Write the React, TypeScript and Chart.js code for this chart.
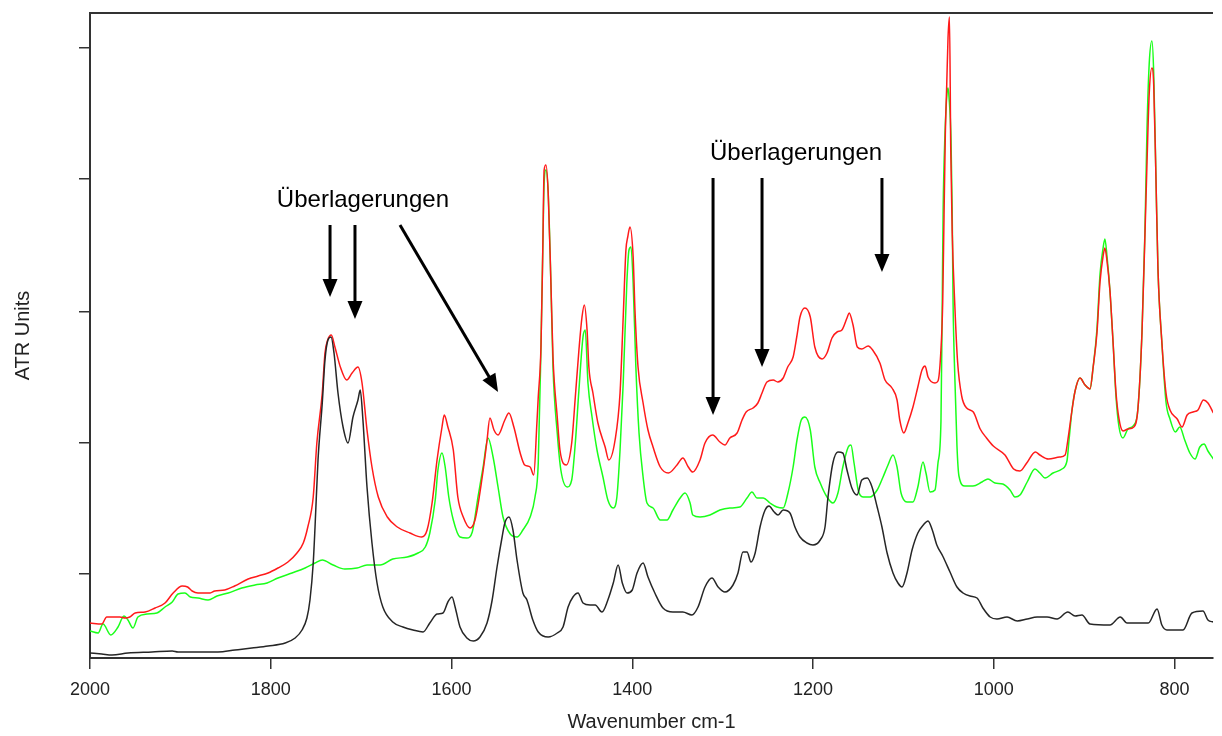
import React, { useEffect, useRef } from 'react';
import { Chart, registerables } from 'chart.js';

Chart.register(...registerables);

const FONT = '"Liberation Sans", Arial, Helvetica, sans-serif';
const AXIS_COLOR = '#333333';
const TEXT_COLOR = '#222222';

// x axis (wavenumber, cm-1), drawn reversed
const xTicks = [2000, 1800, 1600, 1400, 1200, 1000, 800];
const xMin = 757.4;
const xMax = 2000;
// y axis (ATR units), unlabelled tick marks
const yTicks = [0.084, 0.215, 0.346, 0.479, 0.61];
const yMin = 0;
const yMax = 0.645;

const redWn = [2000,1987,1981.5,1967,1961,1956,1950,1939,1928,1917,1908,1898,1892,1887,1880.5,1867,1862,1851,1840,1825,1814,1803,1792,1781,1771,1764,1759,1753,1749,1743,1740,1737,1733,1729,1723,1716,1710,1703.5,1699,1693.5,1688,1681,1671,1660,1646,1633,1627,1621.5,1616,1610.5,1608,1604,1598,1593,1587,1579.5,1574,1566,1561,1557.5,1553,1548.5,1541,1536.5,1531,1524,1519,1513,1509,1505.5,1504,1501,1499,1497.5,1495.5,1493,1490,1487.7,1483,1480,1473,1467,1463,1459,1455.6,1453,1450,1448,1443.5,1438,1430,1426,1419,1413.5,1410,1407,1405,1402.5,1399,1397,1393.6,1388,1382.6,1377,1369,1360,1350.5,1344,1338,1333,1325,1319.5,1311,1303,1297.5,1292,1284,1278.5,1274,1266.4,1261,1256.4,1251,1244,1239,1233,1228,1222,1218,1214.4,1209,1203,1198,1190,1184.5,1179,1173.4,1168,1162.4,1160,1155.7,1151,1146,1139,1134,1126,1120.3,1112.6,1107,1104,1099.5,1095,1089.4,1084,1079.4,1076,1072.7,1065,1061.7,1058.7,1056.5,1055,1053.6,1052,1050.6,1049,1047.6,1046,1043,1040,1035.5,1030,1022.6,1015,1008,1000.5,987.6,978,971,963.5,954,949,939.6,927,921,918,913.4,910,904.6,899,893.5,890,885.8,882.4,879,877,874.7,871.4,868,864.7,861.4,857,851.5,845,840.6,836,832.7,830.4,828,825,823,820.5,818.3,814,809.4,805,797,791.7,786,779.5,774,768,763,757];
const redAbs = [0.035,0.034,0.041,0.041,0.040,0.041,0.045,0.046,0.050,0.055,0.065,0.072,0.071,0.067,0.065,0.065,0.067,0.068,0.072,0.079,0.082,0.085,0.090,0.096,0.105,0.115,0.131,0.161,0.215,0.265,0.305,0.318,0.323,0.311,0.291,0.278,0.285,0.291,0.275,0.228,0.191,0.161,0.141,0.131,0.125,0.121,0.128,0.155,0.198,0.231,0.243,0.231,0.208,0.161,0.141,0.130,0.138,0.181,0.215,0.240,0.228,0.223,0.238,0.245,0.231,0.205,0.193,0.191,0.183,0.235,0.261,0.311,0.408,0.488,0.493,0.465,0.375,0.301,0.241,0.208,0.193,0.215,0.261,0.308,0.341,0.353,0.328,0.291,0.265,0.235,0.211,0.198,0.218,0.265,0.341,0.408,0.421,0.431,0.401,0.348,0.291,0.255,0.228,0.211,0.191,0.185,0.193,0.200,0.191,0.186,0.198,0.215,0.223,0.216,0.213,0.220,0.225,0.238,0.246,0.250,0.255,0.265,0.276,0.278,0.276,0.280,0.291,0.301,0.321,0.341,0.350,0.341,0.311,0.299,0.305,0.320,0.326,0.328,0.340,0.345,0.333,0.311,0.309,0.312,0.308,0.295,0.278,0.270,0.258,0.238,0.225,0.235,0.251,0.271,0.288,0.292,0.281,0.275,0.277,0.304,0.355,0.443,0.523,0.574,0.620,0.641,0.511,0.427,0.351,0.296,0.262,0.250,0.246,0.229,0.220,0.212,0.203,0.189,0.187,0.195,0.206,0.203,0.199,0.201,0.203,0.218,0.248,0.267,0.280,0.273,0.269,0.291,0.325,0.376,0.402,0.410,0.397,0.367,0.316,0.265,0.239,0.227,0.229,0.231,0.248,0.325,0.423,0.496,0.564,0.590,0.573,0.479,0.389,0.316,0.265,0.248,0.239,0.231,0.243,0.246,0.248,0.258,0.255,0.245];

const greenWn = [2000,1991,1985.6,1977,1969,1962.4,1958,1952.4,1947,1937,1926,1917,1909,1902.6,1895,1889,1880.5,1869.4,1859.5,1847,1832,1817.4,1804,1792,1776.5,1762,1751,1743,1731,1718,1704.6,1693.5,1679,1665,1649,1637,1629,1624,1618,1615,1610.5,1607,1603,1598,1590.6,1583,1577,1570.7,1565,1559.6,1554,1548.5,1543,1535,1527.5,1521,1513,1507.6,1504,1501,1499,1497.5,1495.5,1493,1490,1487.7,1483,1479,1472,1467,1463,1459,1454.5,1452,1449,1444.5,1439,1432.4,1427,1421,1417,1413.5,1410,1406,1403.6,1401.4,1399,1396,1392.5,1388,1383.7,1377,1369,1361.6,1355,1347,1341.6,1336,1333,1325,1314,1303,1292,1281,1273,1267.5,1262,1255,1247.6,1240,1233,1227.7,1222,1217.7,1213,1209,1203,1198,1192,1184.5,1178,1172.4,1167,1161,1158,1154.6,1150,1144.7,1137,1129,1122.5,1117,1111.5,1107,1102.6,1096,1089.4,1084,1078.3,1075,1070.5,1065,1061.7,1058.4,1057,1056,1054,1051.7,1050.6,1049.5,1047.3,1046,1045,1043,1040.7,1038.5,1032,1023,1013,1006.4,998.6,990,982,976.5,971,963,954.4,949,943.3,934.4,924.5,919,916.7,913.4,910,904.6,899,893.5,890,885.8,882.4,879,877,874.7,871.4,868,864.7,861.4,857,851.5,845,840.6,836,832.7,830.4,828,825,823,820.5,818.3,814,809.4,805,799,794.2,788.7,783,777.3,772,767.3,763,757];
const greenAbs = [0.027,0.025,0.034,0.023,0.031,0.042,0.038,0.030,0.041,0.044,0.045,0.051,0.056,0.064,0.065,0.061,0.060,0.058,0.062,0.065,0.070,0.073,0.075,0.080,0.085,0.090,0.095,0.098,0.093,0.089,0.090,0.093,0.093,0.099,0.101,0.105,0.111,0.125,0.158,0.188,0.205,0.191,0.161,0.138,0.121,0.120,0.126,0.161,0.191,0.220,0.201,0.171,0.141,0.124,0.121,0.128,0.141,0.161,0.195,0.311,0.408,0.475,0.488,0.465,0.375,0.291,0.225,0.188,0.171,0.178,0.215,0.268,0.321,0.328,0.275,0.241,0.208,0.181,0.158,0.150,0.161,0.208,0.275,0.375,0.408,0.411,0.375,0.291,0.225,0.181,0.155,0.150,0.138,0.138,0.148,0.160,0.165,0.155,0.143,0.141,0.143,0.148,0.150,0.151,0.160,0.166,0.160,0.160,0.155,0.151,0.150,0.165,0.191,0.218,0.238,0.241,0.228,0.191,0.175,0.161,0.155,0.165,0.191,0.211,0.213,0.195,0.168,0.161,0.161,0.168,0.181,0.193,0.203,0.191,0.165,0.156,0.156,0.171,0.196,0.185,0.166,0.168,0.195,0.237,0.355,0.448,0.523,0.565,0.570,0.561,0.519,0.448,0.355,0.279,0.212,0.182,0.172,0.172,0.176,0.179,0.175,0.174,0.168,0.161,0.163,0.176,0.189,0.185,0.180,0.185,0.189,0.197,0.218,0.248,0.267,0.280,0.273,0.269,0.291,0.329,0.384,0.410,0.419,0.402,0.367,0.316,0.261,0.231,0.220,0.229,0.233,0.248,0.325,0.427,0.530,0.594,0.617,0.585,0.479,0.389,0.316,0.256,0.239,0.226,0.231,0.218,0.205,0.199,0.211,0.214,0.207,0.199];

const blackWn = [2000,1987,1975.7,1958,1931.4,1909,1902.6,1876,1858.4,1839.6,1821,1803,1784,1773,1765.4,1760,1756.6,1753,1751,1747.7,1743,1740,1736.7,1733.3,1730,1725.6,1720,1714.5,1709,1703.5,1701,1698,1693.5,1688,1682.4,1676,1665,1653.7,1642.6,1631.5,1624,1616,1609.4,1604,1599.4,1596,1590.6,1583,1576,1568.5,1560.7,1555,1549.6,1544,1541,1536.4,1532,1527.5,1521,1516.5,1510,1504,1493,1483,1476.6,1471,1465.6,1460,1454.5,1446.7,1441,1433.5,1427,1421,1415.6,1411,1405.8,1400,1394.7,1388,1382.6,1375,1366,1355,1344,1334,1327.2,1319.5,1311.8,1305,1297.4,1288.5,1283,1277.5,1273,1268.6,1264,1258.6,1253,1248.7,1243,1238.7,1233,1225.5,1220,1214.4,1206.7,1200,1192,1186.7,1183.4,1178,1172.4,1167,1162.4,1157,1151.3,1146,1140,1134.7,1129,1123.7,1118,1111.5,1106,1101.5,1096,1090.4,1084,1078,1072.7,1068,1063,1056.5,1048.4,1040.7,1034,1026.3,1018.5,1012,1004,996.4,985.3,974,963,952,941,930,918,910,902.4,893.5,871.4,860,852.5,829,819.3,814,808.3,790.6,780.7,768.5,763,757];
const blackAbs = [0.005,0.004,0.003,0.005,0.006,0.007,0.006,0.006,0.006,0.008,0.010,0.012,0.015,0.020,0.028,0.040,0.058,0.095,0.131,0.198,0.255,0.298,0.318,0.321,0.305,0.265,0.231,0.215,0.241,0.258,0.268,0.238,0.171,0.115,0.075,0.051,0.036,0.031,0.028,0.026,0.035,0.044,0.045,0.056,0.061,0.051,0.031,0.020,0.017,0.021,0.035,0.058,0.091,0.121,0.135,0.141,0.128,0.098,0.065,0.058,0.038,0.026,0.021,0.025,0.031,0.051,0.061,0.065,0.055,0.053,0.053,0.046,0.058,0.075,0.093,0.075,0.065,0.068,0.085,0.095,0.081,0.065,0.050,0.046,0.046,0.043,0.051,0.071,0.080,0.071,0.066,0.073,0.085,0.106,0.106,0.096,0.105,0.131,0.148,0.152,0.146,0.143,0.148,0.145,0.131,0.121,0.115,0.113,0.118,0.131,0.161,0.195,0.206,0.205,0.188,0.170,0.163,0.178,0.180,0.171,0.151,0.131,0.105,0.085,0.075,0.071,0.085,0.108,0.125,0.133,0.137,0.128,0.113,0.102,0.086,0.071,0.065,0.062,0.060,0.050,0.041,0.039,0.041,0.037,0.039,0.041,0.041,0.039,0.046,0.042,0.043,0.034,0.033,0.041,0.035,0.035,0.049,0.033,0.028,0.028,0.045,0.047,0.038,0.036];

// annotation text, placed in data coordinates
const labelText = ['Überlagerungen', 'Überlagerungen'];
const labelWn = [1698, 1218.8];
const labelAbs = [0.458, 0.505];

// arrows: start (wn, abs) -> tip (wn, abs)
const arrowFromWn = [1734.4, 1706.8, 1657, 1310.6, 1256.4, 1123.7];
const arrowFromAbs = [0.433, 0.433, 0.433, 0.48, 0.48, 0.48];
const arrowToWn = [1734.4, 1706.8, 1548.5, 1310.6, 1256.4, 1123.7];
const arrowToAbs = [0.361, 0.339, 0.266, 0.243, 0.291, 0.386];

const toPoints = (xs: number[], ys: number[]) => xs.map((x, i) => ({ x, y: ys[i] }));

const annotationPlugin = {
  id: 'spectrumAnnotations',
  afterDatasetsDraw(chart: any) {
    const { ctx, chartArea } = chart;
    const xs = chart.scales.x;
    const ys = chart.scales.y;
    ctx.save();
    // top frame line
    ctx.strokeStyle = AXIS_COLOR;
    ctx.lineWidth = 2;
    ctx.beginPath();
    ctx.moveTo(chartArea.left, chartArea.top);
    ctx.lineTo(chartArea.right, chartArea.top);
    ctx.stroke();

    ctx.fillStyle = '#000';
    ctx.font = `24px ${FONT}`;
    ctx.textAlign = 'center';
    ctx.textBaseline = 'middle';
    labelText.forEach((t, i) => {
      ctx.fillText(t, xs.getPixelForValue(labelWn[i]), ys.getPixelForValue(labelAbs[i]));
    });

    ctx.strokeStyle = '#000';
    ctx.lineWidth = 3;
    const headLen = 18;
    const headHalf = 7.5;
    arrowFromWn.forEach((_, i) => {
      const x1 = xs.getPixelForValue(arrowFromWn[i]);
      const y1 = ys.getPixelForValue(arrowFromAbs[i]);
      const x2 = xs.getPixelForValue(arrowToWn[i]);
      const y2 = ys.getPixelForValue(arrowToAbs[i]);
      const dx = x2 - x1;
      const dy = y2 - y1;
      const len = Math.hypot(dx, dy);
      const ux = dx / len;
      const uy = dy / len;
      const bx = x2 - ux * headLen;
      const by = y2 - uy * headLen;
      ctx.beginPath();
      ctx.moveTo(x1, y1);
      ctx.lineTo(bx + ux * 2, by + uy * 2);
      ctx.stroke();
      ctx.beginPath();
      ctx.moveTo(x2, y2);
      ctx.lineTo(bx - uy * headHalf, by + ux * headHalf);
      ctx.lineTo(bx + uy * headHalf, by - ux * headHalf);
      ctx.closePath();
      ctx.fill();
    });
    ctx.restore();
  },
};

export default function App() {
  const canvasRef = useRef<HTMLCanvasElement | null>(null);

  useEffect(() => {
    if (!canvasRef.current) return;
    const chart = new Chart(canvasRef.current, {
      type: 'line',
      data: {
        datasets: [
          { label: 'black', data: toPoints(blackWn, blackAbs), borderColor: '#262626', borderWidth: 1.5, order: 0 },
          { label: 'red', data: toPoints(redWn, redAbs), borderColor: '#ff1a1a', borderWidth: 1.5, order: 1 },
          { label: 'green', data: toPoints(greenWn, greenAbs), borderColor: '#1aff1a', borderWidth: 1.5, order: 2 },
        ],
      },
      options: {
        animation: false,
        responsive: false,
        devicePixelRatio: 1,
        parsing: false as any,
        layout: { padding: { left: 0, top: 13, right: 9, bottom: 0 } },
        elements: {
          point: { radius: 0 },
          line: { cubicInterpolationMode: 'monotone', fill: false },
        },
        plugins: {
          legend: { display: false },
          tooltip: { enabled: false },
        },
        scales: {
          x: {
            type: 'linear',
            reverse: true,
            min: xMin,
            max: xMax,
            afterBuildTicks: (s: any) => {
              s.ticks = xTicks.map((v) => ({ value: v }));
            },
            afterFit: (s: any) => {
              s.height = 78;
            },
            ticks: {
              color: TEXT_COLOR,
              font: { size: 18, family: FONT },
              padding: 10,
              maxRotation: 0,
              autoSkip: false,
              callback: (v: any) => String(v),
            },
            grid: {
              drawOnChartArea: false,
              drawTicks: true,
              tickLength: 11,
              color: AXIS_COLOR,
              lineWidth: 1.5,
            },
            border: { display: true, color: AXIS_COLOR, width: 2 },
            title: {
              display: true,
              text: 'Wavenumber cm-1',
              color: TEXT_COLOR,
              font: { size: 20, family: FONT },
              padding: { top: 0, bottom: 2 },
            },
          },
          y: {
            type: 'linear',
            min: yMin,
            max: yMax,
            afterBuildTicks: (s: any) => {
              s.ticks = yTicks.map((v) => ({ value: v }));
            },
            afterFit: (s: any) => {
              s.width = 90;
            },
            ticks: { display: false },
            grid: {
              drawOnChartArea: false,
              drawTicks: true,
              tickLength: 11,
              color: AXIS_COLOR,
              lineWidth: 1.5,
            },
            border: { display: true, color: AXIS_COLOR, width: 2 },
            title: {
              display: true,
              text: 'ATR Units',
              color: TEXT_COLOR,
              font: { size: 20, family: FONT },
              padding: { top: 11, bottom: 0 },
            },
          },
        },
      },
      plugins: [annotationPlugin],
    } as any);
    return () => chart.destroy();
  }, []);

  return (
    <div style={{ position: 'fixed', left: 0, top: 0, width: 1222, height: 736, background: '#fff' }}>
      <canvas ref={canvasRef} width={1222} height={736} style={{ display: 'block' }} />
    </div>
  );
}
